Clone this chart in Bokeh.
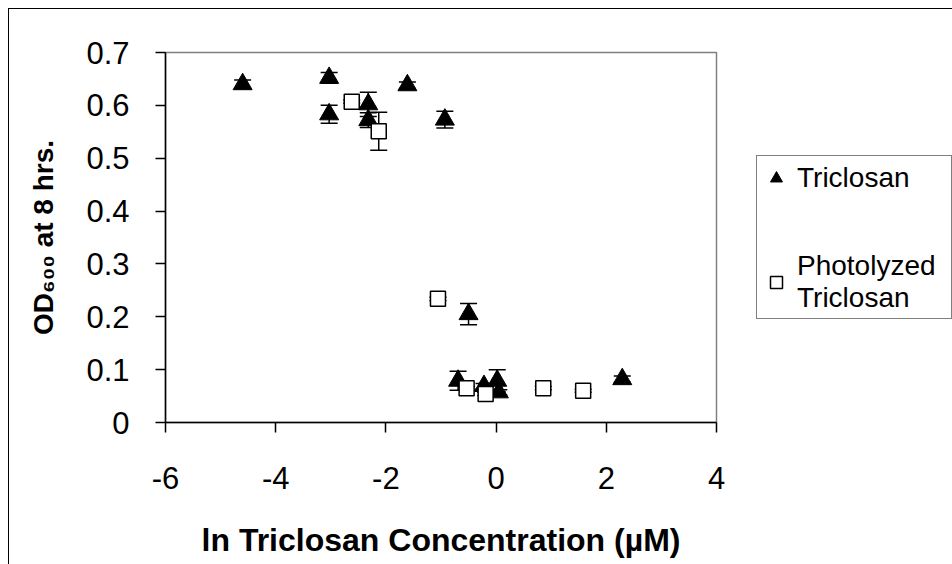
from bokeh.plotting import figure
from bokeh.models import ColumnDataSource, Whisker, Legend, LegendItem, FixedTicker, TeeHead
from bokeh.embed import file_html
from bokeh.resources import INLINE

# Triclosan (filled triangles): ln concentration, OD600 at 8 h, error
tri_x = [-4.60, -3.03, -3.03, -2.32, -2.32, -1.61, -0.93, -0.50, -0.69, -0.22, 0.02, 0.05, 2.29]
tri_y = [0.640, 0.652, 0.583, 0.602, 0.572, 0.638, 0.573, 0.205, 0.079, 0.069, 0.079, 0.057, 0.082]
tri_err = [0.008, 0.010, 0.017, 0.023, 0.014, 0.006, 0.016, 0.020, 0.018, 0.005, 0.021, 0.005, 0.006]

# Photolyzed triclosan (open squares)
pho_x = [-2.62, -2.13, -1.055, -0.535, -0.19, 0.856, 1.58]
pho_y = [0.607, 0.551, 0.234, 0.065, 0.054, 0.065, 0.060]
pho_err = [0.003, 0.036, 0.003, 0.003, 0.003, 0.003, 0.003]

x_ticks = [-6, -4, -2, 0, 2, 4]
x_tick_labels = ["-6", "-4", "-2", "0", "2", "4"]
y_ticks = [0, 0.1, 0.2, 0.3, 0.4, 0.5, 0.6, 0.7]
y_tick_labels = ["0", "0.1", "0.2", "0.3", "0.4", "0.5", "0.6", "0.7"]

FONT = "Liberation Sans"

tri_src = ColumnDataSource(dict(
    x=tri_x, y=tri_y,
    lo=[v - e for v, e in zip(tri_y, tri_err)],
    hi=[v + e for v, e in zip(tri_y, tri_err)],
))
pho_src = ColumnDataSource(dict(
    x=pho_x, y=pho_y,
    lo=[v - e for v, e in zip(pho_y, pho_err)],
    hi=[v + e for v, e in zip(pho_y, pho_err)],
))

p = figure(
    frame_width=551, frame_height=370,
    x_range=(-6, 4), y_range=(0, 0.7),
    output_backend="svg", toolbar_location=None,
    min_border_left=156, min_border_right=236,
    min_border_top=43, min_border_bottom=142,
)
p.styles = {
    "margin-left": "8px", "margin-top": "8px",
    "border-left": "1px solid #000", "border-top": "1px solid #000",
}
p.background_fill_color = "white"
p.border_fill_color = "white"
p.outline_line_color = "#808080"
p.outline_line_width = 1.5
p.xgrid.visible = False
p.ygrid.visible = False

# error bars first, markers on top
def add_whisker(src):
    w = Whisker(
        source=src, base="x", lower="lo", upper="hi", dimension="height",
        line_color="black", line_width=1.5,
        upper_head=TeeHead(size=17, line_color="black", line_width=1.5),
        lower_head=TeeHead(size=17, line_color="black", line_width=1.5),
    )
    p.add_layout(w)

add_whisker(tri_src)
tri_r = p.scatter("x", "y", source=tri_src, marker="triangle", size=19,
                  fill_color="black", line_color="black", line_width=1)
add_whisker(pho_src)
pho_r = p.scatter("x", "y", source=pho_src, marker="square", size=15,
                  fill_color="white", line_color="black", line_width=1.5)

# axes
for ax in (p.xaxis[0], p.yaxis[0]):
    ax.axis_line_color = "black"
    ax.axis_line_width = 1.5
    ax.major_tick_line_color = "black"
    ax.major_tick_line_width = 1.5
    ax.major_tick_out = 10
    ax.major_tick_in = 0
    ax.minor_tick_line_color = None
    ax.major_label_text_font = FONT
    ax.major_label_text_font_size = "31px"
    ax.major_label_text_color = "black"
    ax.axis_label_text_font = FONT
    ax.axis_label_text_font_style = "bold"
    ax.axis_label_text_color = "black"

p.xaxis.ticker = FixedTicker(ticks=x_ticks)
p.xaxis.major_label_overrides = dict(zip(x_ticks, x_tick_labels))
p.xaxis.major_label_standoff = 34
p.xaxis.axis_label = "ln Triclosan Concentration (µM)"
p.xaxis.axis_label_text_font_size = "32px"
p.xaxis.axis_label_standoff = 30

p.yaxis.ticker = FixedTicker(ticks=y_ticks)
p.yaxis.major_label_overrides = dict(zip(y_ticks, y_tick_labels))
p.yaxis.major_label_standoff = 26
p.yaxis.axis_label = "OD₆₀₀ at 8 hrs."
p.yaxis.axis_label_text_font_size = "28px"
p.yaxis.axis_label_standoff = 24

legend = Legend(
    items=[
        LegendItem(label="Triclosan", renderers=[tri_r]),
        LegendItem(label="Photolyzed\nTriclosan", renderers=[pho_r]),
    ],
    location=(40, 103),
    label_text_font=FONT, label_text_font_size="28px",
    label_text_color="black",
    glyph_width=30, glyph_height=36,
    label_standoff=6, label_width=150,
    padding=4, spacing=54, margin=0,
    border_line_color="black", border_line_width=1,
    background_fill_color="white", background_fill_alpha=1,
)
p.add_layout(legend, "right")

open("out.html", "w").write(file_html(p, INLINE))
